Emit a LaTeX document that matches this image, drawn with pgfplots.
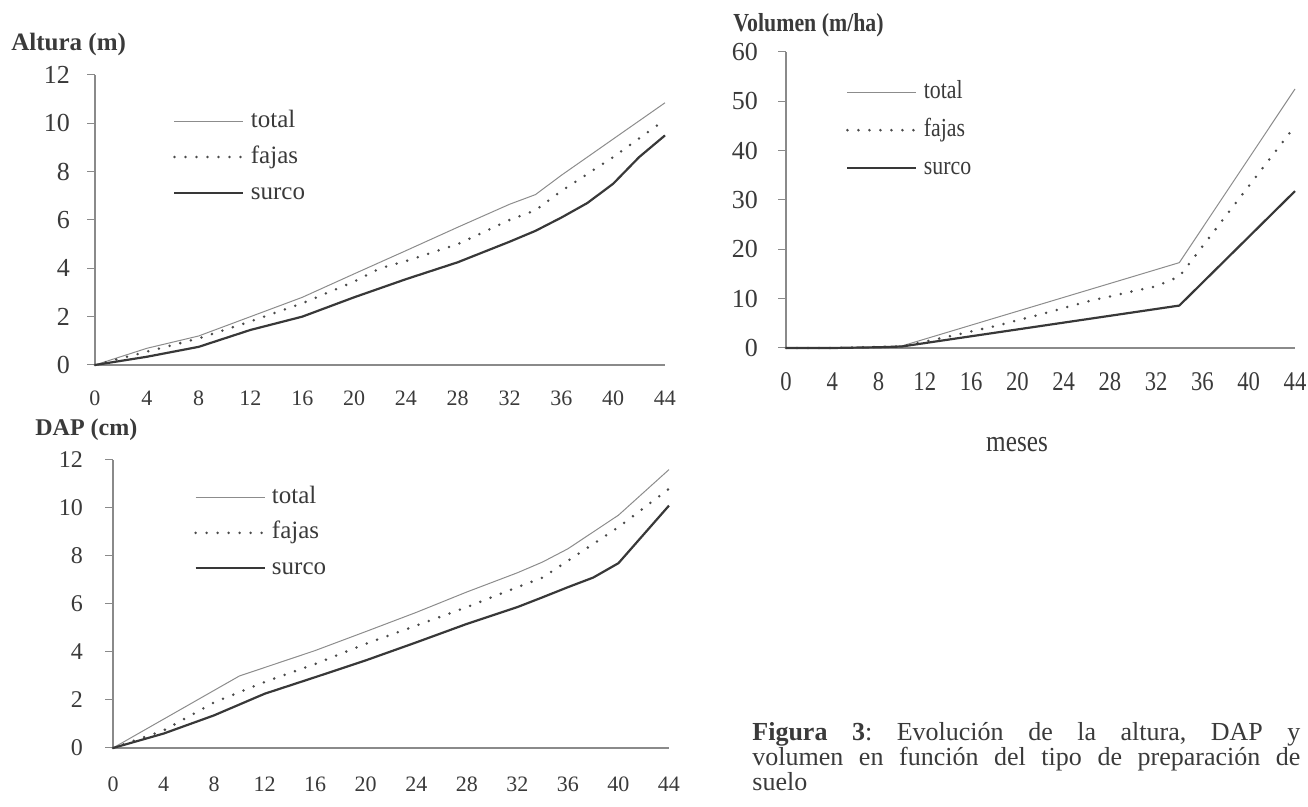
\documentclass[border=0pt]{standalone}
\usepackage{fontspec}
\setmainfont{Liberation Serif}
\newfontfamily\cond{Liberation Serif}[FakeStretch=0.84]
\usepackage{pgfplots}
\pgfplotsset{compat=1.18}
\definecolor{txt}{HTML}{3A3A3A}
\definecolor{axc}{HTML}{8A8A8A}
\definecolor{ctotal}{HTML}{8C8C8C}
\definecolor{cfajas}{HTML}{4A4A4A}
\definecolor{csurco}{HTML}{383838}

\pgfplotsset{
  base/.style={
    scale only axis, anchor=south west,
    xmin=0, xmax=44, xtick={0,4,...,44}, ymin=0,
    axis x line=bottom, axis y line=left,
    axis line style={-, draw=axc, line width=0.6pt},
    xtick style={draw=none},
    ytick style={draw=axc, line width=0.5pt},
    tick align=outside, major tick length=4pt,
    /pgf/number format/assume math mode=true,
    ticklabel style={text=txt},
    clip=false, no markers,
    legend cell align=left,
    legend image code/.code={\draw[##1] (0pt,0pt) -- (34.5pt,0pt);},
  },
  ptotal/.style={ctotal, line width=0.5pt},
  pfajas/.style={cfajas, line width=1.4pt, line cap=round, dash pattern=on 0pt off 5.5pt},
  psurco/.style={csurco, line width=1.1pt},
}

\begin{document}
\frenchspacing
\begin{tikzpicture}
\path[use as bounding box] (0,0) rectangle (654pt,403.5pt);

% ---------------- Altura ----------------
\begin{axis}[base,
  at={(47.5pt,221pt)}, width=285pt, height=145pt,
  ymax=12, ytick={0,2,...,12},
  xticklabel style={font=\fontsize{11}{11}\selectfont, anchor=north, text height=7.5pt, text depth=0pt, yshift=-5pt},
  yticklabel style={font=\fontsize{13}{13}\selectfont, anchor=east, xshift=-5pt},
  legend style={draw=none, fill=none, inner sep=0pt, outer sep=0pt,
    at={(rel axis cs:0.137,0.717)}, anchor=west, row sep=7pt,
    font=\fontsize{12.5}{12.5}\selectfont, text=txt,
    nodes={inner sep=0pt, text height=8.5pt, text depth=2.5pt},
    /tikz/every odd column/.append style={column sep=3pt}},
]
\addplot[ptotal] coordinates {(0,0) (4,0.69) (8,1.2) (10,1.6) (12,2.0) (16,2.8) (20,3.77) (24,4.73) (28,5.7) (32,6.65) (34,7.05) (36,7.85) (40,9.35) (44,10.85)};
\addplot[pfajas] coordinates {(0,0) (4,0.55) (8,1.1) (12,1.8) (16,2.55) (20,3.45) (22,4.0) (24,4.3) (28,5.0) (32,6.0) (34,6.4) (36,7.2) (40,8.6) (44,10.15)};
\addplot[psurco] coordinates {(0,0) (4,0.34) (8,0.75) (12,1.45) (16,2.0) (20,2.8) (24,3.55) (28,4.25) (32,5.1) (34,5.55) (36,6.1) (38,6.7) (40,7.5) (42,8.6) (44,9.5)};
\legend{total,fajas,surco}
\end{axis}

% ---------------- DAP ----------------
\begin{axis}[base,
  at={(56.5pt,29.5pt)}, width=278pt, height=144pt,
  ymax=12, ytick={0,2,...,12},
  xticklabel style={font=\fontsize{11}{11}\selectfont, anchor=north, text height=7.5pt, text depth=0pt, yshift=-6.5pt},
  yticklabel style={font=\fontsize{12}{12}\selectfont, anchor=east, xshift=-7.5pt},
  legend style={draw=none, fill=none, inner sep=0pt, outer sep=0pt,
    at={(rel axis cs:0.146,0.747)}, anchor=west, row sep=6.75pt,
    font=\fontsize{12.5}{12.5}\selectfont, text=txt,
    nodes={inner sep=0pt, text height=8.5pt, text depth=2.5pt},
    /tikz/every odd column/.append style={column sep=3pt}},
]
\addplot[ptotal] coordinates {(0,0) (4,1.2) (8,2.4) (10,3.0) (16,4.06) (20,4.85) (24,5.65) (28,6.5) (32,7.3) (34,7.75) (36,8.3) (40,9.7) (44,11.6)};
\addplot[pfajas] coordinates {(0,0) (4,0.73) (8,1.9) (12,2.75) (16,3.5) (20,4.34) (24,5.1) (28,5.87) (32,6.7) (34,7.1) (36,7.8) (40,9.2) (44,10.8)};
\addplot[psurco] coordinates {(0,0) (4,0.6) (8,1.36) (12,2.26) (16,2.95) (20,3.65) (24,4.4) (28,5.17) (32,5.87) (34,6.28) (36,6.7) (38,7.1) (40,7.7) (42,8.9) (44,10.1)};
\legend{total,fajas,surco}
\end{axis}

% ---------------- Volumen ----------------
\begin{axis}[base,
  at={(393pt,229.5pt)}, width=254.5pt, height=148pt,
  ymax=60, ytick={0,10,...,60},
  xticklabel style={font=\cond\fontsize{13.5}{13.5}\selectfont, anchor=north, text height=9pt, text depth=0pt, yshift=-4.5pt},
  yticklabel style={font=\fontsize{13}{13}\selectfont, anchor=east, xshift=-6.5pt},
  legend style={draw=none, fill=none, inner sep=0pt, outer sep=0pt,
    at={(rel axis cs:0.118,0.736)}, anchor=west, row sep=8pt,
    font=\cond\fontsize{13}{13}\selectfont, text=txt,
    nodes={inner sep=0pt, text height=8.5pt, text depth=2.5pt},
    /tikz/every odd column/.append style={column sep=3pt}},
]
\addplot[ptotal] coordinates {(0,0) (4,0) (8,0.2) (10,0.4) (34,17.3) (44,52.5)};
\addplot[pfajas] coordinates {(0,0) (4,0) (8,0.2) (10,0.3) (14,2.3) (18,4.4) (22,6.8) (26,9.4) (30,11.5) (32,12.5) (34,14.5) (44,45)};
\addplot[psurco] coordinates {(0,0) (4,0) (8,0.15) (10,0.3) (34,8.6) (44,31.8)};
\legend{total,fajas,surco}
\end{axis}

% ---------------- titles and caption ----------------
\node[anchor=west, inner sep=0pt, text=txt, font=\bfseries\fontsize{12.5}{12.5}\selectfont] at (5.5pt,381pt) {Altura (m)};
\node[anchor=west, inner sep=0pt, text=txt, font=\bfseries\fontsize{12}{12}\selectfont] at (17.5pt,188.5pt) {DAP (cm)};
\node[anchor=west, inner sep=0pt, text=txt, font=\cond\bfseries\fontsize{13}{13}\selectfont] at (366.5pt,391pt) {Volumen (m/ha)};
\node[inner sep=0pt, text=txt, font=\cond\fontsize{15}{15}\selectfont] at (508.5pt,181pt) {meses};

\node[anchor=base west, inner sep=0pt, text=txt, font=\fontsize{13}{13}\selectfont] at (376pt,33pt)
  {\makebox[274pt][s]{\textbf{Figura 3}: Evolución de la altura, DAP y}};
\node[anchor=base west, inner sep=0pt, text=txt, font=\fontsize{13}{13}\selectfont] at (376pt,20.5pt)
  {\makebox[274pt][s]{volumen en función del tipo de preparación de}};
\node[anchor=base west, inner sep=0pt, text=txt, font=\fontsize{13}{13}\selectfont] at (376pt,8pt)
  {suelo};
\end{tikzpicture}
\end{document}
